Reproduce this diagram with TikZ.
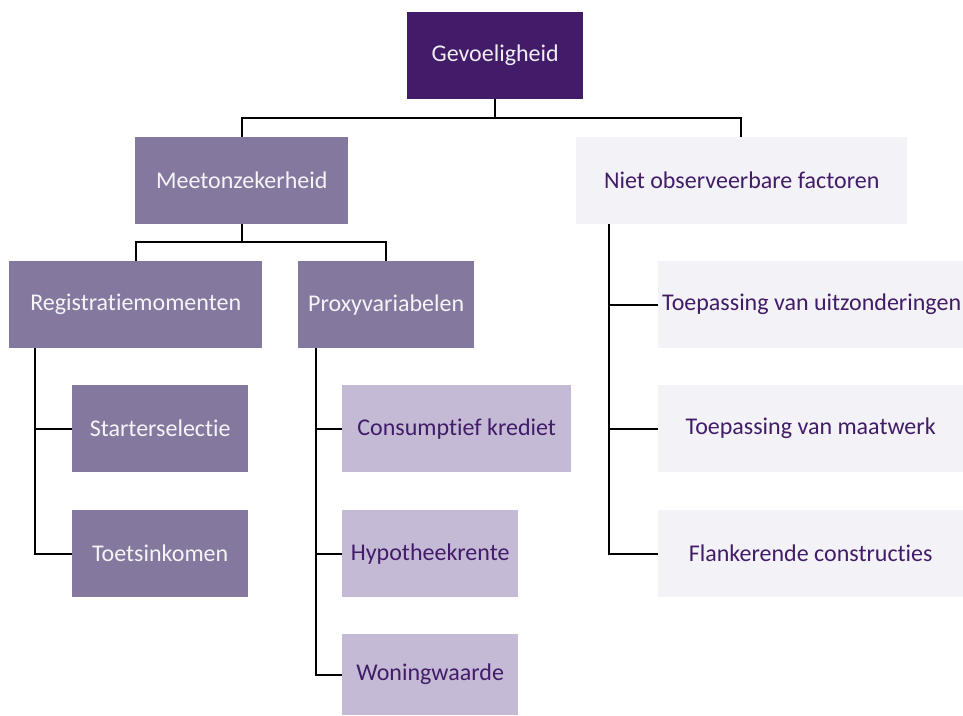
\documentclass[tikz,border=0pt]{standalone}
\usepackage{fontspec}
\setmainfont[Ligatures={NoCommon}]{Carlito}
\definecolor{dark}{HTML}{421C68}
\definecolor{mid}{HTML}{84789F}
\definecolor{light}{HTML}{C5BAD5}
\definecolor{pale}{HTML}{F3F2F6}
\begin{document}
\begin{tikzpicture}[x=1pt,y=-1pt,
  box/.style={anchor=north west,inner sep=0pt,font=\fontsize{24}{28}\selectfont},
  darkbox/.style={box,fill=dark,text=white!92!dark},
  midbox/.style={box,fill=mid,text=white!92!mid},
  lightbox/.style={box,fill=light,text=dark},
  palebox/.style={box,fill=pale,text=dark},
  conn/.style={draw=black,line width=2pt}]
\useasboundingbox (0,0) rectangle (963,715);
\node[darkbox,minimum width=176pt,minimum height=87pt] (g) at (407,12) {Gevoeligheid};
\node[midbox,minimum width=213pt,minimum height=87pt] (m) at (135,137) {Meetonzekerheid};
\node[palebox,minimum width=331pt,minimum height=87pt] (n) at (576,137) {Niet observeerbare factoren};
\node[midbox,minimum width=253pt,minimum height=87pt] (r) at (9,261) {Registratiemomenten};
\node[midbox,minimum width=176pt,minimum height=87pt] (p) at (298,261) {Proxyvariabelen};
\node[midbox,minimum width=176pt,minimum height=87pt] (s) at (72,385) {Starterselectie};
\node[midbox,minimum width=176pt,minimum height=87pt] (t) at (72,510) {Toetsinkomen};
\node[lightbox,minimum width=229pt,minimum height=87pt] (c) at (342,385) {Consumptief krediet};
\node[lightbox,minimum width=176pt,minimum height=87pt] (h) at (342,510) {Hypotheekrente};
\node[lightbox,minimum width=176pt,minimum height=81pt] (w) at (342,634) {Woningwaarde};
\node[palebox,minimum width=305pt,minimum height=87pt] (u) at (658,261) {};
\node[anchor=west,inner sep=0pt,font=\fontsize{24}{28}\selectfont,text=dark] at (662,304.5) {Toepassing van uitzonderingen};
\node[palebox,minimum width=305pt,minimum height=87pt] (mw) at (658,385) {Toepassing van maatwerk};
\node[palebox,minimum width=305pt,minimum height=87pt] (f) at (658,510) {Flankerende constructies};
% connectors
\coordinate (gy) at (0,118);
\draw[conn] (g.south) -- (g.south |- gy) -| (m.north);
\draw[conn] (g.south |- gy) -| (n.north -| 741,0);
\coordinate (my) at (0,242);
\draw[conn] (m.south) -- (m.south |- my) -| (p.north);
\draw[conn] (m.south |- my) -| (r.north);
\coordinate (rx) at (35,0);
\draw[conn] (r.south -| rx) |- (t.west);
\draw[conn] (s.west) -- (s.west -| rx);
\coordinate (px) at (316,0);
\draw[conn] (p.south -| px) |- (w.west);
\draw[conn] (c.west) -- (c.west -| px);
\draw[conn] (h.west) -- (h.west -| px);
\coordinate (nx) at (609,0);
\draw[conn] (n.south -| nx) |- (f.west);
\draw[conn] (u.west) -- (u.west -| nx);
\draw[conn] (mw.west) -- (mw.west -| nx);
\end{tikzpicture}
\end{document}
